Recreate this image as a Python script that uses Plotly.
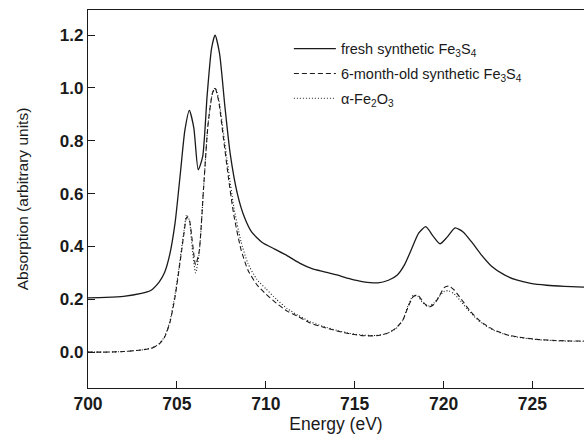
import plotly.graph_objects as go

# ---- data ----
fresh_x = [700, 701, 702, 703, 703.5, 704, 704.3, 704.6, 704.9, 705.2, 705.45, 705.7, 705.95,
           706.2, 706.45, 706.7, 706.95, 707.15, 707.4, 707.7, 708.0, 708.4, 708.8, 709.2, 709.8,
           710.5, 711.2, 711.9, 712.6, 713.3, 714.0, 714.7, 715.5, 716.3, 716.9, 717.4, 717.8,
           718.2, 718.6, 719.0, 719.4, 719.8, 720.2, 720.65, 721.1, 721.6, 722.1, 722.7, 723.4,
           724.1, 724.9, 725.8, 726.8, 728]
fresh_y = [0.205, 0.207, 0.211, 0.222, 0.232, 0.265, 0.30, 0.37, 0.49, 0.68, 0.84, 0.915, 0.85,
           0.69, 0.74, 0.97, 1.15, 1.20, 1.13, 0.93, 0.75, 0.60, 0.51, 0.455, 0.415,
           0.39, 0.365, 0.337, 0.316, 0.304, 0.292, 0.278, 0.266, 0.262, 0.272, 0.292, 0.33,
           0.39, 0.45, 0.475, 0.44, 0.41, 0.435, 0.47, 0.455, 0.415, 0.37, 0.325, 0.293,
           0.273, 0.26, 0.253, 0.249, 0.246]

aged_x = [700, 701, 702, 703, 703.6, 704.0, 704.3, 704.6, 704.9, 705.2, 705.4, 705.55, 705.7,
          705.85, 706.05, 706.25, 706.5, 706.75, 707.0, 707.15, 707.35, 707.6, 707.9, 708.2,
          708.6, 709.0, 709.5, 710.0, 710.6, 711.2, 711.8, 712.5, 713.2, 714.0, 714.8, 715.5,
          716.2, 716.8, 717.3, 717.7, 718.0, 718.3, 718.55, 718.85, 719.15, 719.45, 719.75,
          720.05, 720.3, 720.6, 721.0, 721.5, 722.1, 722.8, 723.6, 724.4, 725.3, 726.3, 727.2, 728]
aged_y = [0.0, 0.0, 0.002, 0.008, 0.015, 0.03, 0.055, 0.11, 0.21, 0.35, 0.45, 0.51, 0.50,
          0.43, 0.33, 0.38, 0.62, 0.86, 0.98, 1.0, 0.95, 0.82, 0.66, 0.52,
          0.39, 0.31, 0.255, 0.22, 0.185, 0.155, 0.135, 0.11, 0.095, 0.08, 0.068, 0.062,
          0.062, 0.07, 0.09, 0.12, 0.17, 0.21, 0.215, 0.19, 0.17, 0.18, 0.21,
          0.245, 0.25, 0.235, 0.2, 0.155, 0.115, 0.085, 0.065, 0.055, 0.048, 0.044, 0.042, 0.042]

hem_x = [700, 701, 702, 703, 703.6, 704.0, 704.3, 704.6, 704.9, 705.2, 705.4, 705.55, 705.7,
         705.85, 706.05, 706.25, 706.5, 706.75, 707.0, 707.15, 707.35, 707.6, 707.9, 708.2,
         708.6, 709.0, 709.5, 710.0, 710.6, 711.2, 711.8, 712.5, 713.2, 714.0, 714.8, 715.5,
         716.2, 716.8, 717.3, 717.7, 718.0, 718.3, 718.55, 718.85, 719.15, 719.45, 719.75,
         720.05, 720.3, 720.6, 721.0, 721.5, 722.1, 722.8, 723.6, 724.4, 725.3, 726.3, 727.2, 728]
hem_y = [0.0, 0.0, 0.002, 0.008, 0.016, 0.032, 0.058, 0.115, 0.22, 0.36, 0.46, 0.52, 0.50,
         0.40, 0.30, 0.37, 0.62, 0.86, 0.98, 1.0, 0.96, 0.84, 0.69, 0.55,
         0.42, 0.335, 0.275, 0.24, 0.2, 0.165, 0.14, 0.115, 0.098, 0.082, 0.07, 0.064,
         0.063, 0.07, 0.088, 0.12, 0.175, 0.215, 0.212, 0.185, 0.175, 0.185, 0.21,
         0.23, 0.232, 0.22, 0.19, 0.15, 0.112, 0.083, 0.064, 0.054, 0.047, 0.043, 0.041, 0.041]

names = ["fresh synthetic Fe<sub>3</sub>S<sub>4</sub>",
         "6-month-old synthetic Fe<sub>3</sub>S<sub>4</sub>",
         "\u03b1-Fe<sub>2</sub>O<sub>3</sub>"]

x_ticks = [700, 705, 710, 715, 720, 725]
y_ticks = [0.0, 0.2, 0.4, 0.6, 0.8, 1.0, 1.2]

FONT = "Liberation Sans, Arial, sans-serif"
INK = "#1a1a1a"

fig = go.Figure()
fig.add_trace(go.Scatter(x=fresh_x, y=fresh_y, mode="lines", name=names[0], legendgroup="a",
                         line=dict(color=INK, width=1.3, shape="spline", smoothing=0.6)))
fig.add_trace(go.Scatter(x=aged_x, y=aged_y, mode="lines", name=names[1], legendgroup="b",
                         line=dict(color=INK, width=1.1, dash="5px,3px", shape="spline", smoothing=0.6)))
fig.add_trace(go.Scatter(x=hem_x, y=hem_y, mode="lines", name=names[2], legendgroup="c",
                         line=dict(color=INK, width=1.1, dash="1px,2px", shape="spline", smoothing=0.6)))

fig.update_layout(
    width=584, height=441,
    margin=dict(l=88, r=0, t=10, b=53),
    paper_bgcolor="white", plot_bgcolor="white",
    font=dict(family=FONT, color=INK),
    showlegend=True,
    legend=dict(x=0.405, y=0.94, xanchor="left", yanchor="top",
                bgcolor="rgba(0,0,0,0)", font=dict(size=14.5, family=FONT, color=INK),
                tracegroupgap=3, itemwidth=42),
    xaxis=dict(range=[700, 727.9], tickvals=x_ticks, ticktext=[str(v) for v in x_ticks],
               showgrid=False, zeroline=False, showline=True, linecolor=INK, linewidth=1.3,
               mirror=True, ticks="inside", ticklen=7, tickwidth=1.2, tickcolor=INK,
               tickfont=dict(size=17.5, family=FONT, color=INK, weight="bold"),
               title=dict(text="Energy (eV)", font=dict(size=17.5, family=FONT, color=INK), standoff=2)),
    yaxis=dict(range=[-0.136, 1.295], tickvals=y_ticks, ticktext=[f"{v:.1f}" for v in y_ticks],
               showgrid=False, zeroline=False, showline=True, linecolor=INK, linewidth=1.3,
               ticks="inside", ticklen=7, tickwidth=1.2, tickcolor=INK,
               tickfont=dict(size=17, family=FONT, color=INK, weight="bold"),
               title=dict(text="Absorption (arbitrary units)", font=dict(size=15.5, family=FONT, color=INK), standoff=27)),
)

fig.write_html("out.html")
